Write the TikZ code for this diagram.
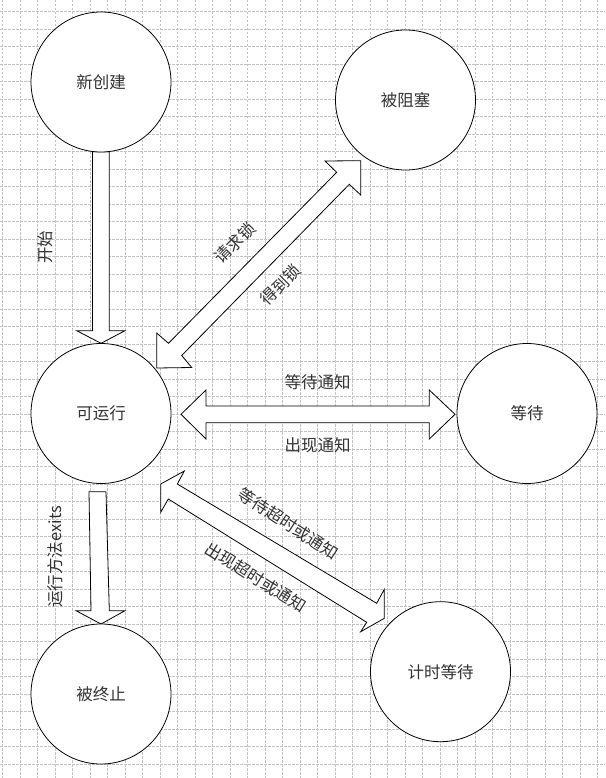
\documentclass[tikz,border=0pt]{standalone}
\usepackage{fontspec}
\newfontfamily\cjk{Noto Sans CJK SC}
\begin{document}
\begin{tikzpicture}[x=1pt,y=-1pt,
  state/.style={circle,draw=black,line width=0.8pt,fill=white,minimum size=140pt,inner sep=0pt,font=\cjk\fontsize{16.5}{16.5}\selectfont,text=black!80},
  blockarrow/.style={draw=black,line width=0.8pt,fill=white,line join=miter},
  lbl/.style={font=\cjk\fontsize{16.5}{16.5}\selectfont,text=black!80,inner sep=0pt},
  gridline/.style={draw=black!24,line width=0.6pt,dash pattern=on 2.5pt off 1.5pt}]
\useasboundingbox (0,0) rectangle (605,778);
\fill[white] (0,0) rectangle (605,778);
\foreach \k in {0,...,34} \draw[gridline] ({2.5+17.5*\k},0) -- ({2.5+17.5*\k},778);
\foreach \k in {0,...,43} \draw[gridline] (0,{11.7+17.5*\k}) -- (605,{11.7+17.5*\k});

% block arrows
\draw[blockarrow] (92.5,151.7) -- (109.3,151.7) -- (109.3,330.7) -- (125,330.7) -- (101,343.3) -- (76.7,330.7) -- (92.5,330.7) -- cycle;
\draw[blockarrow] (89,491.7) -- (106,491.7) -- (109.3,610.7) -- (125,610.7) -- (101,624) -- (76,610.7) -- (91,610.7) -- cycle;
\draw[blockarrow] (181,414.3) -- (206,390) -- (206,406) -- (429.3,406) -- (429.3,390) -- (455,414.3) -- (429.3,439) -- (429.3,422.7) -- (206,422.7) -- (206,439) -- cycle;
\draw[blockarrow] (156.7,368) -- (156.7,333) -- (168.5,343.3) -- (336.7,172.3) -- (325,161) -- (360.7,160.7) -- (360.7,195) -- (349.3,184.3) -- (181.7,355.5) -- (191.7,367.5) -- cycle;
\draw[blockarrow] (160.7,484) -- (184.3,471) -- (177.3,484) -- (376.7,603.3) -- (384.3,589.3) -- (384.3,618.3) -- (360.7,631.7) -- (366.7,622.3) -- (168.3,499) -- (160.7,512.3) -- cycle;

% states
\node[state] (new) at (101,82) {新创建};
\node[state] (blocked) at (405.5,100) {被阻塞};
\node[state] (runnable) at (101,413.5) {可运行};
\node[state] (waiting) at (527,413.5) {等待};
\node[state] (terminated) at (101,694) {被终止};
\node[state] (timedwait) at (440.5,671.7) {计时等待};

% labels
\node[lbl,rotate=90] (lstart) at (45,247) {开始};
\node[lbl,rotate=90] (lexit) at (55,557) {运行方法exits};
\node[lbl,rotate=45] (lreq) at (235,243) {请求锁};
\node[lbl,rotate=45] (lget) at (280.5,285) {得到锁};
\node[lbl] (lwn) at (317.5,382) {等待通知};
\node[lbl] (lon) at (317.5,445) {出现通知};
\node[lbl,rotate=-33] (lwt) at (288.5,524) {等待超时或通知};
\node[lbl,rotate=-32] (lot) at (256,577.5) {出现超时或通知};
\end{tikzpicture}
\end{document}
